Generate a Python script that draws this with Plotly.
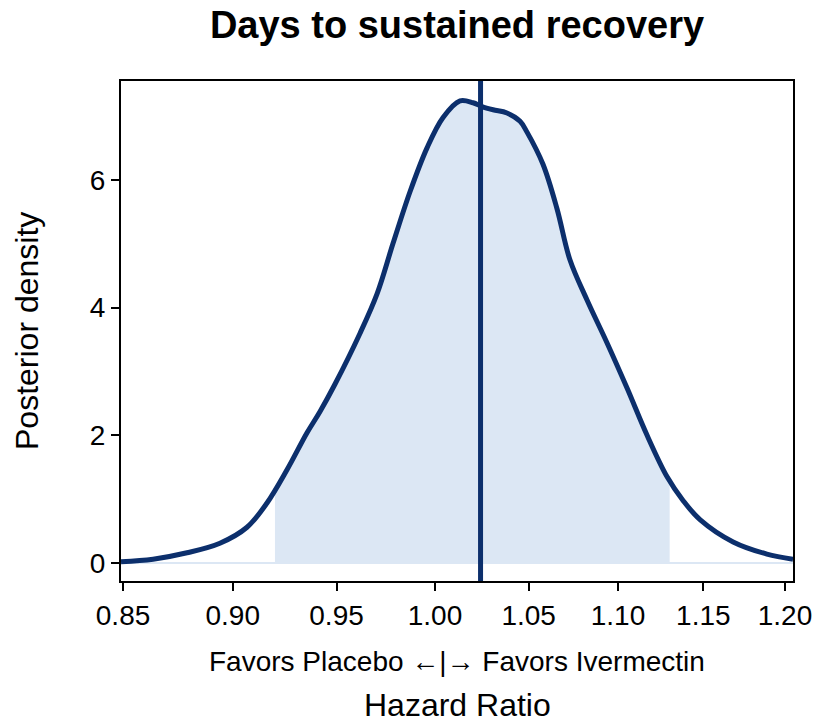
import numpy as np
import plotly.graph_objects as go

# ---- data ----
hazard_ratio = [0.8491, 0.8634, 0.8788, 0.8940, 0.9067, 0.9162, 0.9258, 0.9355, 0.9418,
                0.9492, 0.9617, 0.9703, 0.9783, 0.9871, 0.9958, 1.0042, 1.0131, 1.0200,
                1.0248, 1.0307, 1.0382, 1.0453, 1.0491, 1.0578, 1.0656, 1.0728, 1.0824,
                1.0937, 1.1052, 1.1168, 1.1285, 1.1379, 1.1480, 1.1680, 1.1887, 1.2050]
density = [0.02, 0.06, 0.16, 0.31, 0.56, 0.94, 1.46, 2.04, 2.37,
           2.80, 3.60, 4.22, 5.00, 5.82, 6.50, 6.98, 7.24, 7.21,
           7.15, 7.10, 7.05, 6.92, 6.75, 6.25, 5.55, 4.75, 4.12,
           3.45, 2.74, 2.00, 1.35, 0.98, 0.68, 0.33, 0.14, 0.06]
ci_low = 0.92
ci_high = 1.13
point_estimate = 1.024

x_tick_vals = [0.85, 0.90, 0.95, 1.00, 1.05, 1.10, 1.15, 1.20]
x_tick_text = ["0.85", "0.90", "0.95", "1.00", "1.05", "1.10", "1.15", "1.20"]
y_tick_vals = [0, 2, 4, 6]

title_text = "<b>Days to sustained recovery</b>"
favors_text = "Favors Placebo ←|→ Favors Ivermectin"
x_title = "Hazard Ratio"
y_title = "Posterior density"

NAVY = "#0c2f6c"
FILL = "#dce7f4"
FONT = "Liberation Sans, Arial, sans-serif"

hr = np.array(hazard_ratio)
dens = np.array(density)
loghr = np.log(hr)

# shaded credible interval region
inside = (hr > ci_low) & (hr < ci_high)
fill_x = np.concatenate([[ci_low], hr[inside], [ci_high]])
fill_y = np.interp(np.log(fill_x), loghr, dens)

fig = go.Figure()
fig.add_trace(go.Scatter(x=fill_x, y=fill_y, mode="lines", line=dict(width=0, color=FILL, shape="spline"),
                         fill="tozeroy", fillcolor=FILL, hoverinfo="skip", showlegend=False))
fig.add_trace(go.Scatter(x=hr, y=np.zeros_like(hr), mode="lines", line=dict(width=2, color=FILL),
                         hoverinfo="skip", showlegend=False))
fig.add_trace(go.Scatter(x=hr, y=dens, mode="lines", line=dict(width=5, color=NAVY, shape="spline"),
                         showlegend=False))
fig.add_vline(x=point_estimate, line=dict(color=NAVY, width=5))

fig.update_layout(
    template="none",
    width=817, height=724,
    margin=dict(l=121, r=24, t=81, b=143),
    paper_bgcolor="white", plot_bgcolor="white",
    font=dict(family=FONT, color="black", size=28),
    title=dict(text=title_text, font=dict(size=38, family=FONT, color="black"),
               x=0.5, xref="paper", xanchor="center", y=1 - 25 / 724, yref="container", yanchor="middle"),
    showlegend=False,
)
fig.update_xaxes(type="log", range=[np.log10(0.8491), np.log10(1.2050)], automargin=False,
                 tickvals=x_tick_vals, ticktext=x_tick_text,
                 showline=True, mirror=True, linecolor="black", linewidth=2,
                 ticks="outside", ticklen=8, tickwidth=2, tickcolor="black",
                 showgrid=False, zeroline=False, tickfont=dict(size=28))
fig.update_yaxes(range=[-0.282, 7.551], tickvals=y_tick_vals, automargin=False,
                 showline=True, mirror=True, linecolor="black", linewidth=2,
                 ticks="outside", ticklen=8, tickwidth=2, tickcolor="black",
                 showgrid=False, zeroline=False, tickfont=dict(size=28))

fig.add_annotation(text=favors_text, xref="paper", yref="paper", x=0.5, y=0,
                   yshift=-80, showarrow=False, xanchor="center", yanchor="middle",
                   font=dict(size=28, family=FONT, color="black"))
fig.add_annotation(text=x_title, xref="paper", yref="paper", x=0.5, y=0,
                   yshift=-124, showarrow=False, xanchor="center", yanchor="middle",
                   font=dict(size=32, family=FONT, color="black"))
fig.add_annotation(text=y_title, xref="paper", yref="paper", x=0, y=0.5,
                   xshift=-94, showarrow=False, xanchor="center", yanchor="middle",
                   textangle=-90, font=dict(size=32, family=FONT, color="black"))

fig.write_html("out.html", config={"displayModeBar": False},
               post_script="document.body.style.margin='0px';")
